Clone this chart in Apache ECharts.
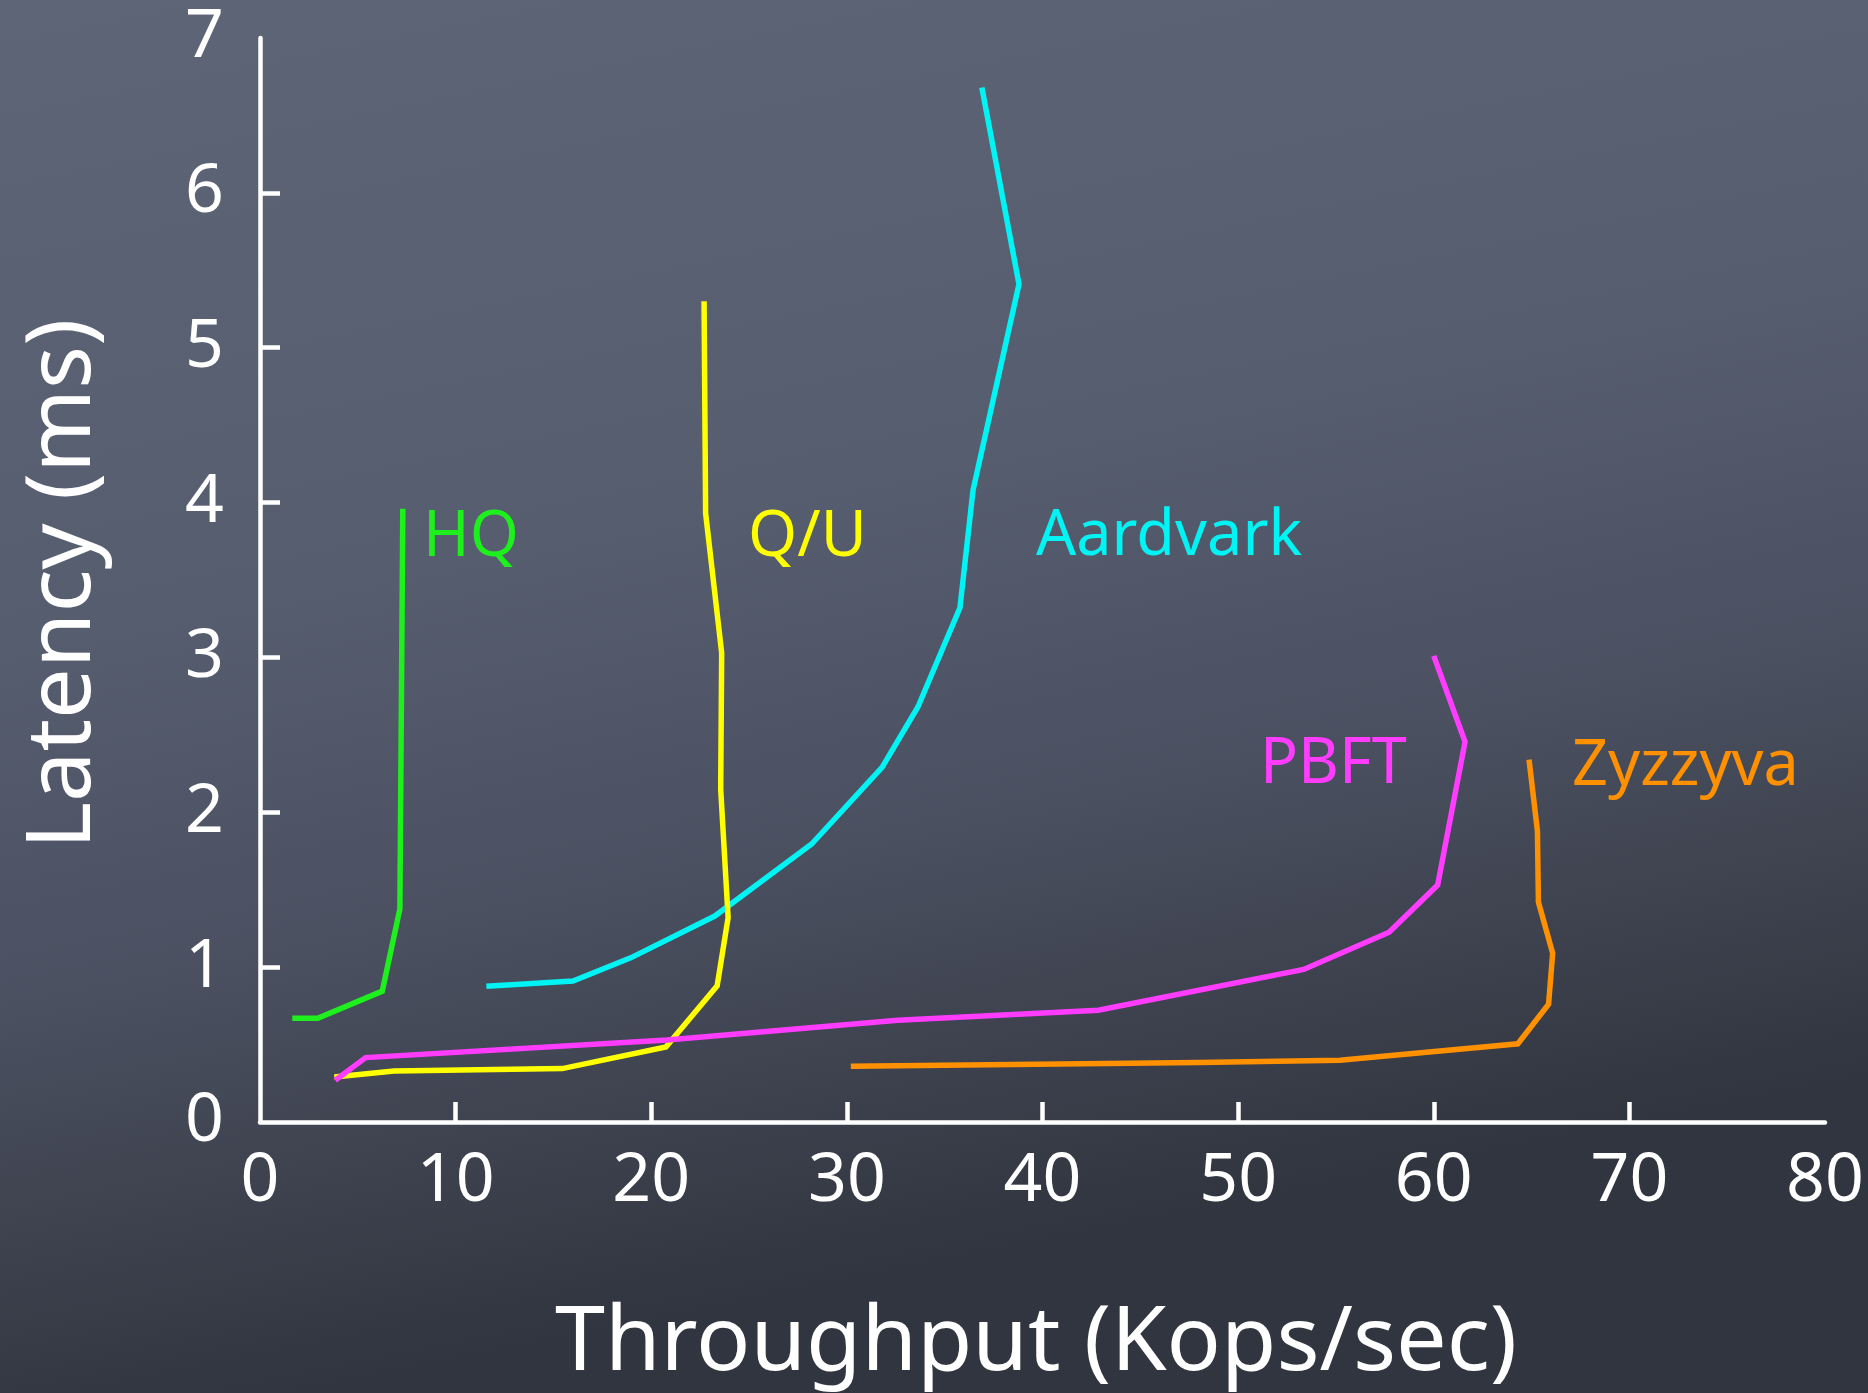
<!DOCTYPE html>
<html>
<head>
<meta charset="utf-8">
<title>Throughput vs Latency</title>
<script src="https://cdn.jsdelivr.net/npm/echarts@6/dist/echarts.min.js"></script>
<style>
  html, body { margin: 0; padding: 0; background: #474d5b; }
  #chart { width: 1868px; height: 1393px; }
</style>
</head>
<body>
<div id="chart"></div>
<script>
// Throughput (Kops/sec) vs latency (ms) for each protocol
const hq       = [[1.65,0.67],[2.95,0.67],[6.25,0.845],[7.15,1.375],[7.3,3.96]];
const qu       = [[3.8,0.29],[6.85,0.33],[15.45,0.345],[20.75,0.485],[23.37,0.88],[23.93,1.32],[23.55,2.15],[23.6,3.03],[22.78,3.93],[22.7,5.3]];
const aardvark = [[11.57,0.877],[16.0,0.91],[18.95,1.06],[23.25,1.33],[28.2,1.795],[31.8,2.29],[33.63,2.68],[35.78,3.32],[36.45,4.08],[38.8,5.41],[36.9,6.68]];
const pbft     = [[3.85,0.27],[5.4,0.416],[20.8,0.53],[32.6,0.657],[42.85,0.722],[53.35,0.985],[57.72,1.225],[60.2,1.53],[61.6,2.455],[60.0,3.01]];
const zyzzyva  = [[30.2,0.36],[48.0,0.385],[55.2,0.399],[64.3,0.505],[65.87,0.76],[66.08,1.09],[65.35,1.42],[65.3,1.88],[64.87,2.34]];

const xTicks = [10, 20, 30, 40, 50, 60, 70];
const xLabels = [0, 10, 20, 30, 40, 50, 60, 70, 80];
const yTicks = [1, 2, 3, 4, 5, 6];
const yLabels = [0, 1, 2, 3, 4, 5, 6, 7];

const seriesDefs = [
  { name: 'HQ',       data: hq,       color: '#1ef01e', label: { x: 423,  y: 538 } },
  { name: 'Aardvark', data: aardvark, color: '#00f4f4', label: { x: 1036, y: 537 } },
  { name: 'Q/U',      data: qu,       color: '#ffff00', label: { x: 748,  y: 538 } },
  { name: 'PBFT',     data: pbft,     color: '#ff3cff', label: { x: 1260, y: 765 } },
  { name: 'Zyzzyva',  data: zyzzyva,  color: '#ff9000', label: { x: 1572, y: 767 } }
];

const FONT = '"Noto Sans", "Open Sans", sans-serif';
const chart = echarts.init(document.getElementById('chart'), null, { renderer: 'canvas' });

const graphics = [
  {
    type: 'text', x: 64, y: 584, rotation: Math.PI / 2,
    style: { text: 'Latency (ms)', fill: '#ffffff', font: '400 90px ' + FONT, align: 'center', verticalAlign: 'middle' }
  },
  {
    type: 'text', x: 1036, y: 1344,
    style: { text: 'Throughput (Kops/sec)', fill: '#ffffff', font: '400 90px ' + FONT, align: 'center', verticalAlign: 'middle' }
  }
].concat(seriesDefs.map(s => ({
  type: 'text', x: s.label.x, y: s.label.y,
  style: { text: s.name, fill: s.color, font: '400 63px ' + FONT, align: 'left', verticalAlign: 'middle' }
})));

chart.setOption({
  animation: false,
  backgroundColor: {
    type: 'linear', x: 0, y: 0, x2: 0.15, y2: 1,
    colorStops: [
      { offset: 0, color: '#5d6577' },
      { offset: 0.45, color: '#565d6f' },
      { offset: 0.7, color: '#4a5060' },
      { offset: 0.88, color: '#3c404c' },
      { offset: 1, color: '#31353f' }
    ]
  },
  grid: { left: 260, right: 43, top: 38, bottom: 271, containLabel: false },
  xAxis: {
    type: 'value', min: 0, max: 80,
    axisLine: { show: true, lineStyle: { color: '#ffffff', width: 4.5 } },
    axisTick: { show: true, inside: true, length: 20, lineStyle: { color: '#ffffff', width: 4.5 }, customValues: xTicks },
    axisLabel: { color: '#ffffff', fontSize: 68, fontFamily: FONT, margin: 26, customValues: xLabels },
    splitLine: { show: false }
  },
  yAxis: {
    type: 'value', min: 0, max: 7,
    axisLine: { show: true, lineStyle: { color: '#ffffff', width: 4.5 } },
    axisTick: { show: true, inside: true, length: 20, lineStyle: { color: '#ffffff', width: 4.5 }, customValues: yTicks },
    axisLabel: { color: '#ffffff', fontSize: 68, fontFamily: FONT, margin: 36, customValues: yLabels },
    splitLine: { show: false }
  },
  series: seriesDefs.map(s => ({
    name: s.name,
    type: 'line',
    data: s.data,
    showSymbol: false,
    symbol: 'none',
    smooth: false,
    lineStyle: { color: s.color, width: 5.5, join: 'miter', cap: 'butt' }
  })),
  graphic: graphics
});
</script>
</body>
</html>
